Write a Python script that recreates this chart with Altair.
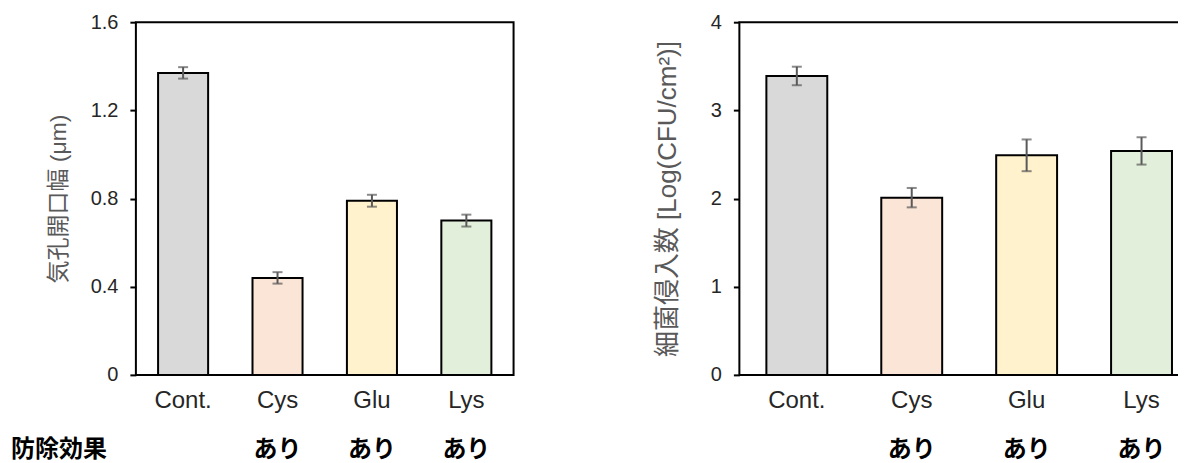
import altair as alt
import pandas as pd

categories = ["Cont.", "Cys", "Glu", "Lys"]
bar_colors = ["#D9D9D9", "#FBE5D6", "#FFF2CC", "#E2EFDA"]
effect_labels = ["", "あり", "あり", "あり"]

stomata_values = [1.37, 0.44, 0.79, 0.70]
stomata_errors = [0.026, 0.026, 0.027, 0.027]
stomata_ticks = [0, 0.4, 0.8, 1.2, 1.6]

bacteria_values = [3.39, 2.01, 2.49, 2.54]
bacteria_errors = [0.105, 0.11, 0.18, 0.155]
bacteria_ticks = [0, 1, 2, 3, 4]

row_label = "防除効果"

FONT = "Liberation Sans, Arial, Noto Sans CJK JP, sans-serif"
H = 353
ROW_Y = H + 75


def panel(values, errors, ticks, fmt, title, title_size, width, title_pad, show_row_label):
    df = pd.DataFrame({
        "cat": categories,
        "val": values,
        "lo": [v - e for v, e in zip(values, errors)],
        "hi": [v + e for v, e in zip(values, errors)],
        "color": bar_colors,
        "eff": effect_labels,
    })
    base = alt.Chart(df)
    x = alt.X("cat:N", sort=categories,
              scale=alt.Scale(paddingInner=0.47, paddingOuter=0.235),
              axis=alt.Axis(title=None, labelAngle=0, ticks=False, domain=False,
                            labelFontSize=24, labelColor="#262626", labelPadding=14,
                            labelFont=FONT))
    y = alt.Y("val:Q",
              scale=alt.Scale(domain=[ticks[0], ticks[-1]], nice=False, zero=True),
              axis=alt.Axis(title=title, values=ticks, format=fmt, grid=False,
                            domain=False, ticks=True, tickSize=6, tickWidth=2,
                            tickColor="black", labelFontSize=20, labelColor="#262626",
                            labelPadding=12, labelFont=FONT, titleFont=FONT,
                            titleFontSize=title_size, titleFontWeight="normal",
                            titleColor="#595959", titlePadding=title_pad))
    bars = base.mark_bar(stroke="black", strokeWidth=2).encode(
        x=x, y=y,
        color=alt.Color("color:N", scale=None),
    )
    err = base.mark_rule(color="#595959", strokeWidth=2).encode(
        x=alt.X("cat:N", sort=categories), y="lo:Q", y2="hi:Q")
    cap_lo = base.mark_tick(color="#595959", thickness=2, size=10).encode(
        x=alt.X("cat:N", sort=categories), y="lo:Q")
    cap_hi = base.mark_tick(color="#595959", thickness=2, size=10).encode(
        x=alt.X("cat:N", sort=categories), y="hi:Q")
    eff = base.mark_text(fontSize=24, fontWeight="bold", font=FONT,
                         color="black", baseline="middle").encode(
        x=alt.X("cat:N", sort=categories), y=alt.value(ROW_Y), text="eff:N")
    layers = [bars, err, cap_lo, cap_hi, eff]
    if show_row_label:
        lab = alt.Chart(pd.DataFrame({"label": [row_label]})).mark_text(
            fontSize=24, fontWeight="bold", font=FONT, color="black",
            align="left", baseline="middle").encode(
            x=alt.value(-125), y=alt.value(ROW_Y), text="label:N")
        layers.append(lab)
    return alt.layer(*layers).properties(
        width=width, height=H,
        view=alt.ViewBackground(stroke="black", strokeWidth=2),
    )


left = panel(stomata_values, stomata_errors, stomata_ticks, ".1~f",
             "気孔開口幅 (μm)", 23, 378, 20, True)
right = panel(bacteria_values, bacteria_errors, bacteria_ticks, "d",
              "細菌侵入数 [Log(CFU/cm²)]", 26, 460, 30, False)

chart = alt.hconcat(left, right, spacing=138).properties(
    padding={"left": 2, "top": 3, "right": -22, "bottom": 0},
    background="white",
).configure_view(stroke="black", strokeWidth=2)

chart.save("out.html", embed_options={"renderer": "svg", "actions": False})
